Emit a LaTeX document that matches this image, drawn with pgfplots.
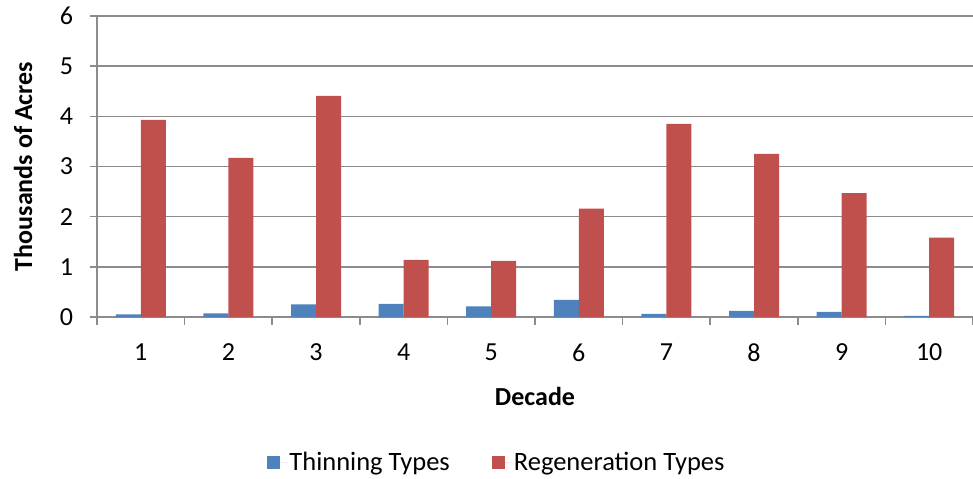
\documentclass[border=0pt]{standalone}
\usepackage{pgfplots}
\pgfplotsset{compat=1.18}
\usepackage{fontspec}
\setmainfont{Carlito}
\definecolor{cblue}{HTML}{4F81BD}
\definecolor{cred}{HTML}{C0504D}
\definecolor{cgrid}{HTML}{8C8C8C}
\begin{document}
\fontsize{26bp}{31bp}\selectfont
\begin{tikzpicture}
\begin{axis}[
  scale only axis,
  width=876bp, height=301bp,
  xmin=0.5, xmax=10.5,
  ymin=0, ymax=6,
  ybar=0pt,
  bar width=25bp,
  axis lines*=left,
  axis line style={cgrid, line width=1.5bp},
  xtick={1,...,10},
  major x tick style={draw=none},
  minor xtick={0.5,1.5,...,10.5},
  minor x tick style={cgrid, line width=1.5bp},
  minor tick length=8bp,
  tick align=outside,
  ytick={0,1,...,6},
  major y tick style={cgrid, line width=1.5bp},
  major tick length=7bp,
  ymajorgrids,
  grid style={cgrid, line width=1.5bp},
  /pgf/number format/assume math mode=true,
  tick label style={font=\fontsize{26bp}{31bp}\selectfont},
  xticklabel style={yshift=-11bp},
  yticklabel style={xshift=-8bp},
  xlabel={\textbf{Decade}},
  ylabel={\textbf{Thousands of Acres}},
  label style={font=\fontsize{26bp}{31bp}\selectfont},
  xlabel style={yshift=-8bp},
  ylabel style={yshift=10bp},
  legend columns=2,
  legend style={draw=none, at={(axis description cs:0.4566,-0.485)}, anchor=center,
    font=\fontsize{26.5bp}{31bp}\selectfont,
    /tikz/every even column/.append style={column sep=40bp}},
  legend image code/.code={\fill[#1] (0bp,-6bp) rectangle (13bp,7bp); \path (0bp,0bp) -- (20bp,0bp);},
  clip=false,
]
\addplot[fill=cblue, draw=none] coordinates {(1,0.05) (2,0.07) (3,0.25) (4,0.26) (5,0.21) (6,0.34) (7,0.06) (8,0.12) (9,0.10) (10,0.02)};
\addplot[fill=cred, draw=none] coordinates {(1,3.93) (2,3.17) (3,4.41) (4,1.14) (5,1.12) (6,2.16) (7,3.85) (8,3.25) (9,2.47) (10,1.58)};
\legend{Thinning Types, Regeneration Types}
\coordinate (O) at (rel axis cs:0,0);
\end{axis}
\pgfresetboundingbox
\path[use as bounding box] ([shift={(-97bp,-162bp)}]O) rectangle ([shift={(876bp,317bp)}]O);
\end{tikzpicture}
\end{document}
